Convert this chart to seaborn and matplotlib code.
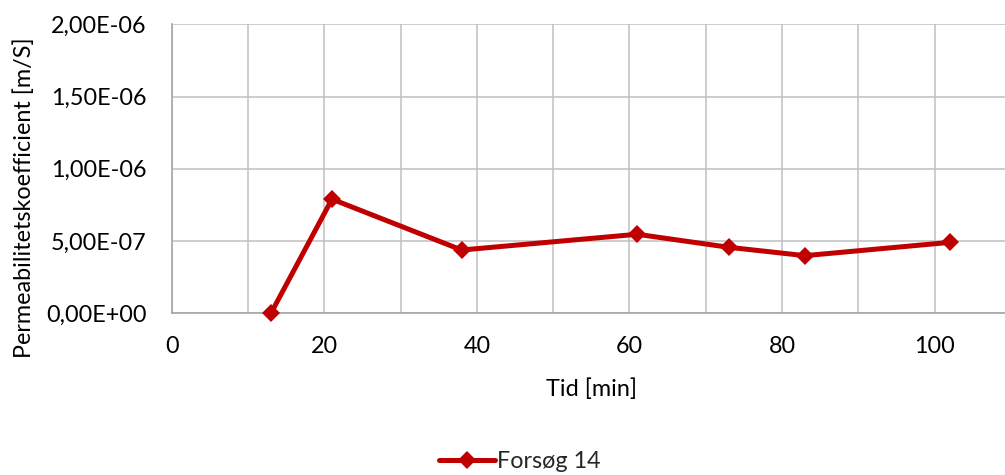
import matplotlib
matplotlib.use("Agg")
import matplotlib.pyplot as plt
from matplotlib.ticker import FuncFormatter, MultipleLocator
import seaborn as sns
import pandas as pd

# Measured permeability over time, test 14
tid_min = [13, 21, 38, 61, 73, 83, 102]
permeabilitet = [0.0, 7.9e-7, 4.38e-7, 5.47e-7, 4.57e-7, 3.99e-7, 4.91e-7]
serie_navn = "Forsøg 14"

sns.set_theme(style="white")
plt.rcParams["font.family"] = ["Lato", "DejaVu Sans"]

rod = "#C00000"
grid_farve = "#c0c0c0"
tekst_farve = "#000000"
fs = 16.8

df = pd.DataFrame({"Tid [min]": tid_min, "k": permeabilitet, "serie": serie_navn})

fig = plt.figure(figsize=(10.05, 4.75), dpi=100)
ax = fig.add_axes([0.1709, 0.3404, 0.835, 0.6084])

sns.lineplot(data=df, x="Tid [min]", y="k", hue="serie", palette=[rod],
             marker="D", markersize=9.5, markeredgewidth=0, linewidth=3.6,
             ax=ax, legend=True, clip_on=False, zorder=3)

ax.set_xlim(0, 110)
ax.set_ylim(0, 2e-6)
ax.xaxis.set_major_locator(MultipleLocator(20))
ax.xaxis.set_minor_locator(MultipleLocator(10))
ax.yaxis.set_major_locator(MultipleLocator(5e-7))
ax.yaxis.set_major_formatter(FuncFormatter(lambda v, p: f"{v:.2E}".replace(".", ",")))

ax.grid(True, which="both", axis="x", color=grid_farve, linewidth=1.1)
ax.grid(True, which="major", axis="y", color=grid_farve, linewidth=1.1)
ax.set_axisbelow(True)

for side in ["top", "right"]:
    ax.spines[side].set_visible(False)
for side in ["left", "bottom"]:
    ax.spines[side].set_color("#a6a6a6")
    ax.spines[side].set_linewidth(1.2)

ax.tick_params(axis="both", which="both", length=0, labelsize=fs, colors=tekst_farve)
ax.tick_params(axis="y", pad=18)
ax.tick_params(axis="x", pad=16)

ax.set_xlabel("Tid [min]", fontsize=fs, color=tekst_farve, labelpad=16)
ax.set_ylabel("")
fig.text(24 / 1005, 1 - 198 / 475, "Permeabilitetskoefficient [m/S]",
         rotation=90, ha="center", va="center", fontsize=fs, color=tekst_farve)

handles, labels = ax.get_legend_handles_labels()
ax.get_legend().remove()
fig.legend(handles, labels, loc="center", bbox_to_anchor=(520 / 1005, 1 - 462 / 475),
           frameon=False, fontsize=fs, handlelength=2.4, handletextpad=0.1,
           borderaxespad=0)

fig.savefig("out.png", dpi=100)
